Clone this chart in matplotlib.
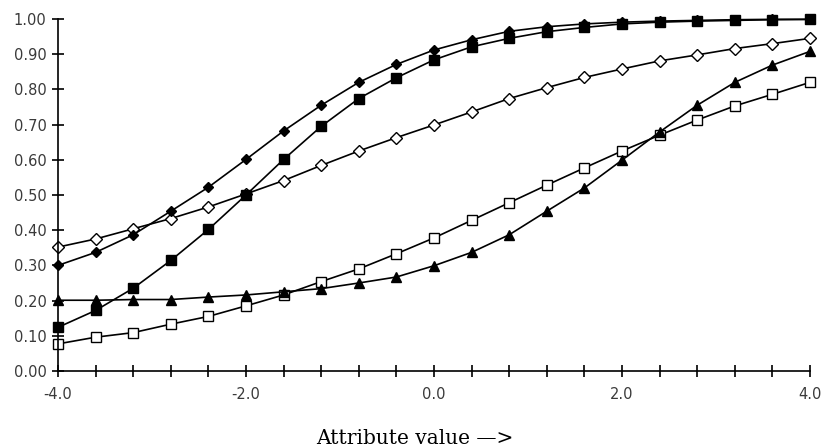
import numpy as np
import matplotlib
matplotlib.use("Agg")
from matplotlib import pyplot as plt

plt.rcParams['axes.unicode_minus'] = False

# attribute values
x = [-4.0, -3.6, -3.2, -2.8, -2.4, -2.0, -1.6, -1.2, -0.8, -0.4, 0.0,
     0.4, 0.8, 1.2, 1.6, 2.0, 2.4, 2.8, 3.2, 3.6, 4.0]

filled_diamond = [0.30, 0.337, 0.387, 0.454, 0.522, 0.601, 0.682, 0.755, 0.82, 0.871, 0.912,
                  0.941, 0.965, 0.978, 0.986, 0.991, 0.994, 0.996, 0.998, 0.999, 0.999]
filled_square = [0.124, 0.172, 0.235, 0.314, 0.402, 0.50, 0.601, 0.695, 0.774, 0.833, 0.884,
                 0.921, 0.945, 0.964, 0.976, 0.986, 0.991, 0.994, 0.996, 0.998, 0.999]
open_diamond = [0.352, 0.375, 0.404, 0.433, 0.466, 0.503, 0.541, 0.584, 0.625, 0.663, 0.699,
                0.736, 0.774, 0.805, 0.834, 0.858, 0.881, 0.898, 0.916, 0.93, 0.945]
filled_triangle = [0.201, 0.201, 0.203, 0.203, 0.21, 0.216, 0.225, 0.234, 0.25, 0.267, 0.299,
                   0.337, 0.387, 0.454, 0.52, 0.599, 0.679, 0.755, 0.82, 0.869, 0.908]
open_square = [0.077, 0.096, 0.109, 0.133, 0.155, 0.185, 0.216, 0.254, 0.29, 0.333, 0.378,
               0.428, 0.478, 0.528, 0.577, 0.625, 0.67, 0.713, 0.753, 0.786, 0.82]

fig = plt.figure(figsize=(8.25, 4.48), dpi=100)
ax = fig.add_axes([0.0703, 0.1719, 0.9115, 0.7857])

line_kw = dict(color='black', lw=1.2, clip_on=False, mec='black')
ax.plot(x, open_diamond, marker='D', ms=6, mfc='white', mew=1.0, **line_kw)
ax.plot(x, filled_diamond, marker='D', ms=5.5, mfc='black', **line_kw)
ax.plot(x, filled_square, marker='s', ms=7, mfc='black', **line_kw)
ax.plot(x, open_square, marker='s', ms=7, mfc='white', mew=1.0, **line_kw)
ax.plot(x, filled_triangle, marker='^', ms=7, mfc='black', **line_kw)

ax.set_xlim(-4, 4)
ax.set_ylim(0, 1)
ax.set_xticks(x)
ax.set_xticklabels(['%.1f' % v if abs(round(v * 10)) % 20 == 0 else '' for v in x])
ax.set_yticks(np.arange(0, 1.01, 0.1))
ax.set_yticklabels(['%.2f' % v for v in np.arange(0, 1.01, 0.1)])

for s in ['top', 'right']:
    ax.spines[s].set_visible(False)
for s in ['left', 'bottom']:
    ax.spines[s].set_linewidth(1.2)

ax.tick_params(axis='both', direction='inout', length=8.5, width=1.2,
               labelsize=10.5, labelcolor='#3a3a3a')
ax.tick_params(axis='y', pad=4)
ax.tick_params(axis='x', pad=7)

fig.text(415 / 825, 4 / 448, 'Attribute value \u2014>', family='DejaVu Serif',
         fontsize=14.5, ha='center', va='baseline')

fig.savefig('out.png', dpi=100)
